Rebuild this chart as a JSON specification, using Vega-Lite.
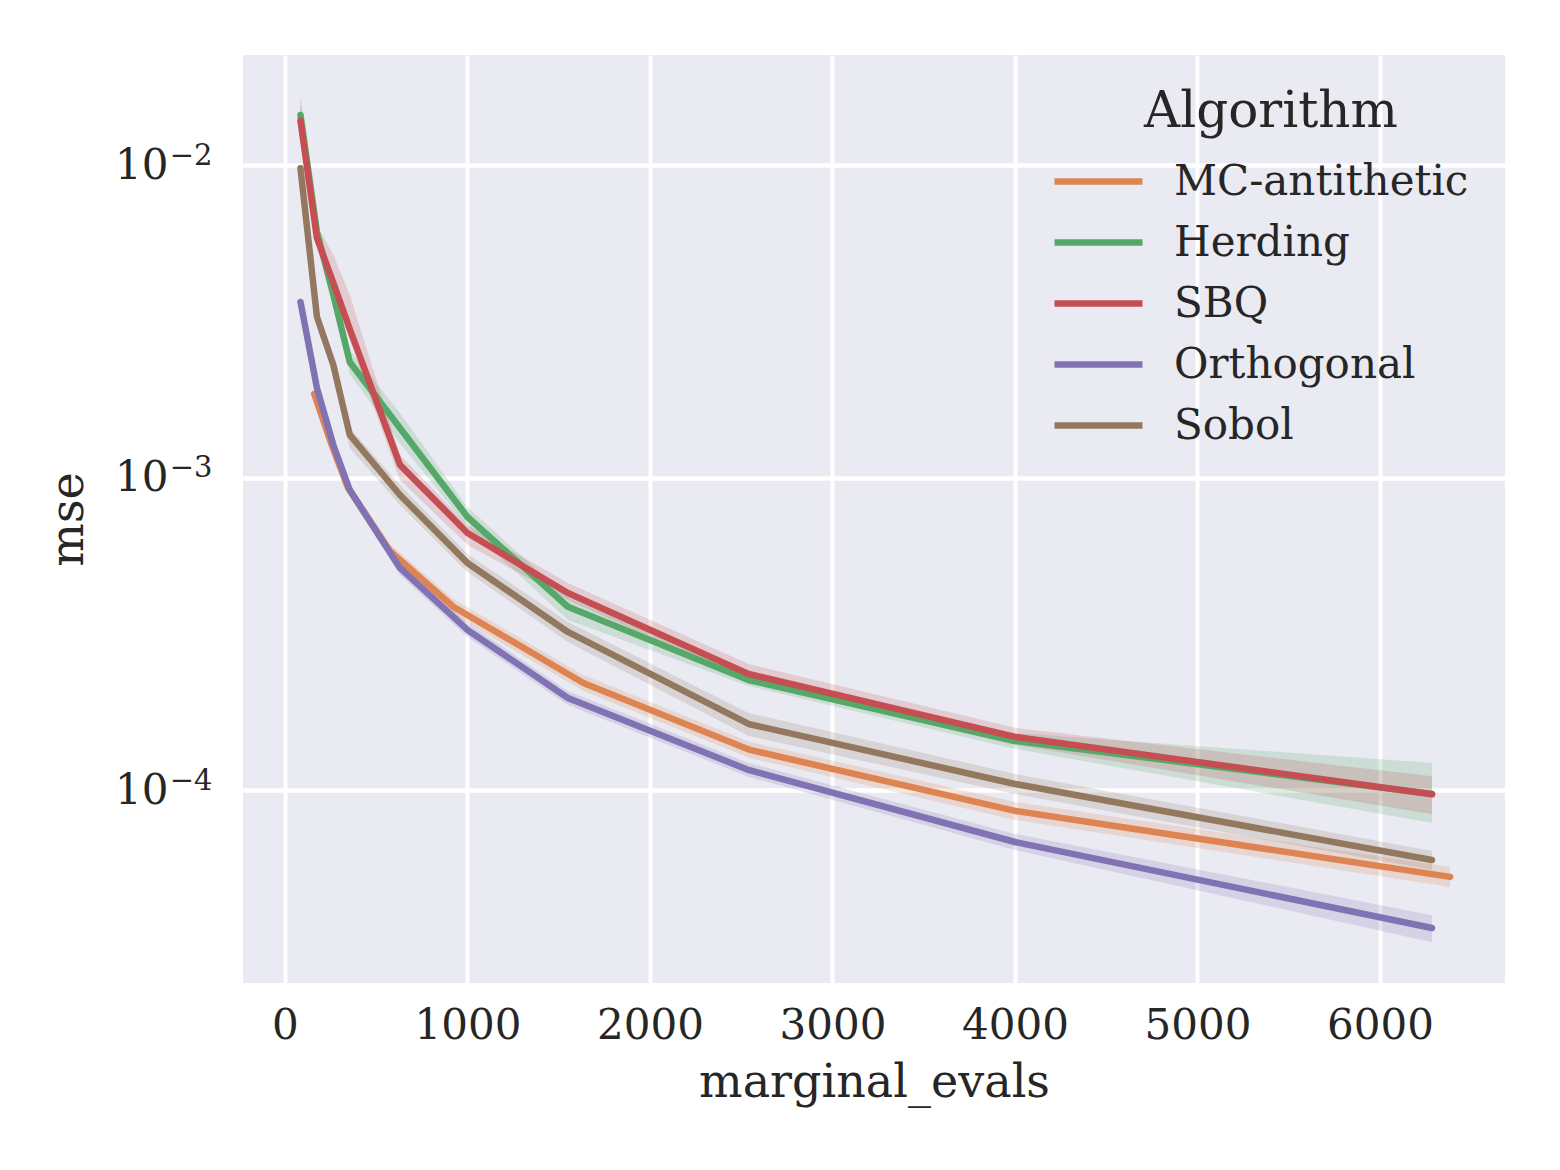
{
  "$schema": "https://vega.github.io/schema/vega-lite/v6.json",
  "width": 1262,
  "height": 928,
  "autosize": "none",
  "padding": {"left": 243, "top": 55, "right": 55, "bottom": 187},
  "background": "white",
  "config": {
    "font": "DejaVu Serif",
    "view": {"fill": "#eaeaf2", "stroke": null},
    "axis": {
      "domain": false,
      "ticks": false,
      "grid": true,
      "gridColor": "white",
      "gridWidth": 4,
      "labelColor": "#262626",
      "titleColor": "#262626",
      "labelFont": "DejaVu Serif",
      "titleFont": "DejaVu Serif",
      "labelFontSize": 42,
      "titleFontSize": 46,
      "titleFontWeight": "normal"
    },
    "legend": {
      "labelFont": "DejaVu Serif",
      "titleFont": "DejaVu Serif",
      "labelColor": "#262626",
      "titleColor": "#262626"
    }
  },
  "data": {
    "values": [
      {"Algorithm": "MC-antithetic", "x": 160, "mse": 0.00186, "lo": 0.00178, "hi": 0.001944},
      {"Algorithm": "MC-antithetic", "x": 255, "mse": 0.00128, "lo": 0.001225, "hi": 0.001338},
      {"Algorithm": "MC-antithetic", "x": 345, "mse": 0.00093, "lo": 0.00089, "hi": 0.000972},
      {"Algorithm": "MC-antithetic", "x": 575, "mse": 0.000584, "lo": 0.000555, "hi": 0.000615},
      {"Algorithm": "MC-antithetic", "x": 922, "mse": 0.000387, "lo": 0.000365, "hi": 0.00041},
      {"Algorithm": "MC-antithetic", "x": 1635, "mse": 0.0002208, "lo": 0.0002082, "hi": 0.0002342},
      {"Algorithm": "MC-antithetic", "x": 2548, "mse": 0.0001348, "lo": 0.0001271, "hi": 0.000143},
      {"Algorithm": "MC-antithetic", "x": 4000, "mse": 0.000086, "lo": 0.0000805, "hi": 0.0000919},
      {"Algorithm": "MC-antithetic", "x": 6384, "mse": 0.0000529, "lo": 0.0000491, "hi": 0.0000569},

      {"Algorithm": "Herding", "x": 85, "mse": 0.01451, "lo": 0.01348, "hi": 0.01682},
      {"Algorithm": "Herding", "x": 175, "mse": 0.006126, "lo": 0.005775, "hi": 0.006498},
      {"Algorithm": "Herding", "x": 265, "mse": 0.003852, "lo": 0.003526, "hi": 0.004208},
      {"Algorithm": "Herding", "x": 355, "mse": 0.002351, "lo": 0.002152, "hi": 0.002568},
      {"Algorithm": "Herding", "x": 630, "mse": 0.001445, "lo": 0.001294, "hi": 0.001614},
      {"Algorithm": "Herding", "x": 1000, "mse": 0.00075, "lo": 0.000697, "hi": 0.000807},
      {"Algorithm": "Herding", "x": 1550, "mse": 0.000387, "lo": 0.000351, "hi": 0.000414},
      {"Algorithm": "Herding", "x": 2540, "mse": 0.0002257, "lo": 0.0002159, "hi": 0.0002359},
      {"Algorithm": "Herding", "x": 4000, "mse": 0.000144, "lo": 0.0001358, "hi": 0.0001527},
      {"Algorithm": "Herding", "x": 6285, "mse": 0.0000974, "lo": 0.0000787, "hi": 0.0001224},

      {"Algorithm": "SBQ", "x": 85, "mse": 0.01391, "lo": 0.01252, "hi": 0.0162},
      {"Algorithm": "SBQ", "x": 175, "mse": 0.005861, "lo": 0.005567, "hi": 0.00645},
      {"Algorithm": "SBQ", "x": 265, "mse": 0.004207, "lo": 0.003851, "hi": 0.005171},
      {"Algorithm": "SBQ", "x": 355, "mse": 0.002997, "lo": 0.002764, "hi": 0.00385},
      {"Algorithm": "SBQ", "x": 630, "mse": 0.001101, "lo": 0.000986, "hi": 0.001185},
      {"Algorithm": "SBQ", "x": 1000, "mse": 0.000667, "lo": 0.000611, "hi": 0.000707},
      {"Algorithm": "SBQ", "x": 1550, "mse": 0.0004285, "lo": 0.000407, "hi": 0.000461},
      {"Algorithm": "SBQ", "x": 2540, "mse": 0.0002359, "lo": 0.0002224, "hi": 0.000254},
      {"Algorithm": "SBQ", "x": 4000, "mse": 0.0001484, "lo": 0.0001399, "hi": 0.0001586},
      {"Algorithm": "SBQ", "x": 6285, "mse": 0.0000972, "lo": 0.0000839, "hi": 0.000111},

      {"Algorithm": "Orthogonal", "x": 85, "mse": 0.003658, "lo": 0.003552, "hi": 0.003767},
      {"Algorithm": "Orthogonal", "x": 175, "mse": 0.001941, "lo": 0.001871, "hi": 0.002014},
      {"Algorithm": "Orthogonal", "x": 265, "mse": 0.001275, "lo": 0.001229, "hi": 0.001323},
      {"Algorithm": "Orthogonal", "x": 355, "mse": 0.000915, "lo": 0.000875, "hi": 0.000956},
      {"Algorithm": "Orthogonal", "x": 630, "mse": 0.0005152, "lo": 0.0004893, "hi": 0.0005425},
      {"Algorithm": "Orthogonal", "x": 1000, "mse": 0.0003263, "lo": 0.0003099, "hi": 0.0003436},
      {"Algorithm": "Orthogonal", "x": 1550, "mse": 0.0001977, "lo": 0.0001878, "hi": 0.0002082},
      {"Algorithm": "Orthogonal", "x": 2540, "mse": 0.0001163, "lo": 0.0001105, "hi": 0.0001225},
      {"Algorithm": "Orthogonal", "x": 4000, "mse": 0.0000684, "lo": 0.0000645, "hi": 0.0000726},
      {"Algorithm": "Orthogonal", "x": 6285, "mse": 0.0000363, "lo": 0.0000327, "hi": 0.0000399},

      {"Algorithm": "Sobol", "x": 85, "mse": 0.009796, "lo": 0.00944, "hi": 0.01016},
      {"Algorithm": "Sobol", "x": 175, "mse": 0.003282, "lo": 0.00314, "hi": 0.00343},
      {"Algorithm": "Sobol", "x": 265, "mse": 0.002299, "lo": 0.002167, "hi": 0.002439},
      {"Algorithm": "Sobol", "x": 355, "mse": 0.001373, "lo": 0.001248, "hi": 0.001446},
      {"Algorithm": "Sobol", "x": 630, "mse": 0.000882, "lo": 0.000819, "hi": 0.000949},
      {"Algorithm": "Sobol", "x": 1000, "mse": 0.0005346, "lo": 0.0005003, "hi": 0.000571},
      {"Algorithm": "Sobol", "x": 1550, "mse": 0.0003215, "lo": 0.0002987, "hi": 0.000346},
      {"Algorithm": "Sobol", "x": 2540, "mse": 0.0001632, "lo": 0.0001494, "hi": 0.000177},
      {"Algorithm": "Sobol", "x": 4000, "mse": 0.0001049, "lo": 0.0000974, "hi": 0.0001129},
      {"Algorithm": "Sobol", "x": 6285, "mse": 0.0000599, "lo": 0.0000556, "hi": 0.000064}
    ]
  },
  "resolve": {"axis": {"y": "independent"}},
  "encoding": {
    "x": {
      "field": "x", "type": "quantitative",
      "scale": {"domain": [-230, 6685], "nice": false, "zero": false},
      "axis": {"values": [0, 1000, 2000, 3000, 4000, 5000, 6000], "title": "marginal_evals", "labelPadding": 22, "titlePadding": 14, "format": "d"}
    },
    "color": {
      "field": "Algorithm", "type": "nominal",
      "scale": {
        "domain": ["MC-antithetic", "Herding", "SBQ", "Orthogonal", "Sobol"],
        "range": ["#dd8452", "#55a868", "#c44e52", "#8172b3", "#937860"]
      },
      "legend": {
        "orient": "none",
        "legendX": 830,
        "legendY": 32,
        "title": "Algorithm",
        "titleFontSize": 50,
        "titleFontWeight": "normal",
        "titleAnchor": "middle",
        "titleLimit": 0,
        "titlePadding": 19,
        "labelFontSize": 42,
        "labelLimit": 0,
        "symbolType": "M-2,0H2",
        "symbolSize": 1936,
        "symbolStrokeWidth": 6.5,
        "symbolOpacity": 1,
        "labelOffset": 50,
        "rowPadding": 14,
        "padding": 0
      }
    }
  },
  "layer": [
    {
      "mark": {"type": "area", "opacity": 0.2},
      "encoding": {
        "y": {
          "field": "lo", "type": "quantitative",
          "scale": {"type": "log", "domain": [0.0000242, 0.02257], "nice": false},
          "axis": {
            "orient": "left",
            "values": [0.01, 0.001, 0.0001],
            "grid": true,
            "title": null,
            "labelFontSize": 29,
            "labelPadding": 31,
            "labelOffset": -10,
            "labelExpr": "datum.value > 0.005 ? '−2' : (datum.value > 0.0005 ? '−3' : '−4')"
          }
        },
        "y2": {"field": "hi"}
      }
    },
    {
      "mark": {"type": "line", "strokeWidth": 6.5, "strokeCap": "round", "strokeJoin": "round"},
      "encoding": {
        "y": {
          "field": "mse", "type": "quantitative",
          "scale": {"type": "log", "domain": [0.0000242, 0.02257], "nice": false},
          "axis": {
            "orient": "left",
            "values": [0.01, 0.001, 0.0001],
            "grid": true,
            "title": "mse",
            "labelPadding": 75,
            "titlePadding": 22,
            "labelExpr": "'10'"
          }
        }
      }
    }
  ]
}
